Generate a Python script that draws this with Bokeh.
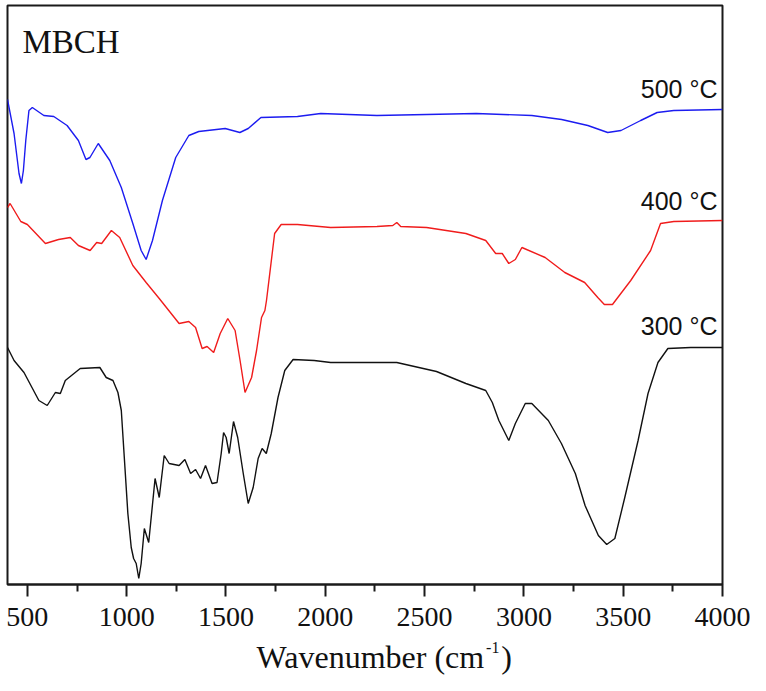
from bokeh.plotting import figure
from bokeh.models import FixedTicker, Range1d
from bokeh.layouts import column
from bokeh.core.properties import value
from bokeh.embed import file_html
from bokeh.resources import INLINE

# ---- data (wavenumber in cm-1, relative transmittance in arbitrary units) ----
wn_500 = [400, 433, 458, 470, 480, 492, 508, 525, 583, 633, 700, 757, 795, 815, 857, 915, 973,
          1031, 1073, 1098, 1130, 1180, 1247, 1313, 1363, 1496, 1570, 1612, 1676, 1860, 1977,
          2260, 2760, 3040, 3190, 3322, 3422, 3489, 3588, 3671, 3755, 4000]
px_500 = [99, 133, 173, 183, 170, 140, 110, 107, 115, 116, 125, 140, 159, 157, 143, 160, 187,
          223, 250, 259, 240, 200, 157, 135, 131, 128, 132, 128, 117, 116, 113,
          115, 113, 115, 119, 125, 132, 130, 120, 112, 110, 109]

wn_400 = [400, 413, 467, 500, 591, 657, 716, 757, 816, 849, 874, 923, 965, 1031, 1098, 1164,
          1264, 1313, 1347, 1380, 1405, 1438, 1471, 1509, 1546, 1571, 1596, 1629, 1654, 1679,
          1696, 1704, 1745, 1778, 1860, 2027, 2260, 2340, 2360, 2380, 2510, 2708, 2808, 2858,
          2891, 2924, 2957, 2990, 3107, 3206, 3306, 3372, 3405, 3446, 3538, 3638, 3688, 3755, 4000]
px_400 = [207, 203, 221, 224, 243, 239, 237, 245, 250, 242, 243, 230, 237, 265, 282, 298,
          323, 321, 327, 348, 346, 352, 333, 318, 330, 360, 392, 377, 350, 317,
          310, 300, 233, 224, 224, 227, 226, 225, 222, 226, 227, 233, 240, 253,
          253, 263, 259, 247, 257, 272, 282, 297, 304, 304, 280, 250, 223, 221, 220]

wn_300 = [400, 433, 483, 558, 600, 641, 666, 691, 766, 865, 897, 931, 956, 973, 990, 1006,
          1023, 1035, 1048, 1061, 1073, 1089, 1111, 1127, 1143, 1164, 1189, 1214, 1264, 1293,
          1322, 1347, 1372, 1397, 1430, 1455, 1476, 1488, 1501, 1516, 1538, 1559, 1587, 1612,
          1637, 1662, 1682, 1703, 1728, 1762, 1796, 1838, 1944, 2027, 2260, 2360, 2560, 2708,
          2808, 2841, 2874, 2924, 2957, 3007, 3040, 3123, 3189, 3259, 3308, 3375, 3417, 3458,
          3508, 3575, 3625, 3675, 3725, 3840, 4000]
px_300 = [347, 360, 372, 400, 405, 392, 393, 380, 368, 367, 377, 380, 392, 410, 463, 513,
          547, 558, 563, 578, 563, 528, 542, 510, 478, 497, 455, 463, 465, 459,
          473, 469, 478, 465, 483, 482, 453, 432, 437, 453, 421, 437, 473, 503,
          487, 458, 448, 453, 433, 397, 370, 359, 360, 362, 362, 362, 371, 383,
          390, 402, 420, 440, 423, 403, 403, 420, 443, 473, 505, 535, 544, 538,
          497, 440, 393, 362, 348, 347, 347]

REF = 585
t_500 = [REF - v for v in px_500]
t_400 = [REF - v for v in px_400]
t_300 = [REF - v for v in px_300]

major_ticks = [500, 1000, 1500, 2000, 2500, 3000, 3500, 4000]
minor_ticks = [750, 1250, 1750, 2250, 2750, 3250, 3750]

series_labels = ["500 \u00b0C", "400 \u00b0C", "300 \u00b0C"]
colors = ["#1c1cf0", "#f01c1c", "#111111"]

# ---- main figure ----
W = 750
H1 = 638
H2 = 45
LEFT, TOP = 7, 5
FRAME_W, FRAME_H = 715, 579
p = figure(width=W, height=H1, output_backend="svg", toolbar_location=None,
           x_range=Range1d(400, 4000), y_range=Range1d(1, 580),
           min_border_left=LEFT, min_border_top=TOP,
           min_border_right=W - LEFT - FRAME_W, min_border_bottom=H1 - TOP - FRAME_H)
p.background_fill_color = "white"
p.border_fill_color = "white"
p.outline_line_color = "#1a1a1a"
p.outline_line_width = 2
p.xgrid.visible = False
p.ygrid.visible = False
p.yaxis.visible = False

ax = p.xaxis[0]
ax.ticker = FixedTicker(ticks=major_ticks, minor_ticks=minor_ticks)
ax.axis_line_width = 2
ax.axis_line_color = "#1a1a1a"
ax.major_tick_line_width = 2
ax.major_tick_line_color = "#1a1a1a"
ax.major_tick_out = 12
ax.major_tick_in = 0
ax.minor_tick_line_width = 2
ax.minor_tick_line_color = "#1a1a1a"
ax.minor_tick_out = 7
ax.minor_tick_in = 0
ax.major_label_text_font = "Liberation Serif"
ax.major_label_text_font_size = "28px"
ax.major_label_text_color = "#111111"
ax.major_label_standoff = 11

for xs, ys, c in [(wn_500, t_500, colors[0]), (wn_400, t_400, colors[1]), (wn_300, t_300, colors[2])]:
    p.line(xs, ys, line_color=c, line_width=1.4)

def dx(px):
    return 400 + (px - LEFT) * 3600.0 / FRAME_W

def dy(py):
    return REF - py

# series labels
p.text(x=[dx(717)] * 3, y=[dy(88), dy(200), dy(325)], text=series_labels,
       text_align="right", text_baseline="alphabetic",
       text_font=value("Liberation Sans"), text_font_size="25px", text_color="#111111")

p.text(x=[dx(22)], y=[dy(41)], text=["MBCH"], text_align="left",
       text_baseline="alphabetic", text_font=value("Liberation Serif"),
       text_font_size="33px", text_color="#111111")

# ---- axis title strip (with superscript) ----
p2 = figure(width=W, height=H2, output_backend="svg", toolbar_location=None,
            x_range=Range1d(0, W), y_range=Range1d(0, H2),
            x_axis_type=None, y_axis_type=None,
            min_border_left=0, min_border_right=0, min_border_top=0, min_border_bottom=0)
p2.outline_line_color = None
p2.background_fill_color = "white"
p2.border_fill_color = "white"
p2.xgrid.visible = False
p2.ygrid.visible = False
BOT = H1 + H2

p2.text(x=[500], y=[BOT - 656], text=["Wavenumber (cm"], text_align="right",
        text_baseline="alphabetic", text_font=value("Liberation Serif"),
        text_font_size="32px", text_color="#111111")
p2.text(x=[502], y=[BOT - 647], text=["-1"], text_align="left",
        text_baseline="alphabetic", text_font=value("Liberation Serif"),
        text_font_size="16px", text_color="#111111")
p2.text(x=[518], y=[BOT - 656], text=[")"], text_align="left",
        text_baseline="alphabetic", text_font=value("Liberation Serif"),
        text_font_size="32px", text_color="#111111")

layout = column(p, p2, spacing=0)
open("out.html", "w").write(file_html(layout, INLINE))
